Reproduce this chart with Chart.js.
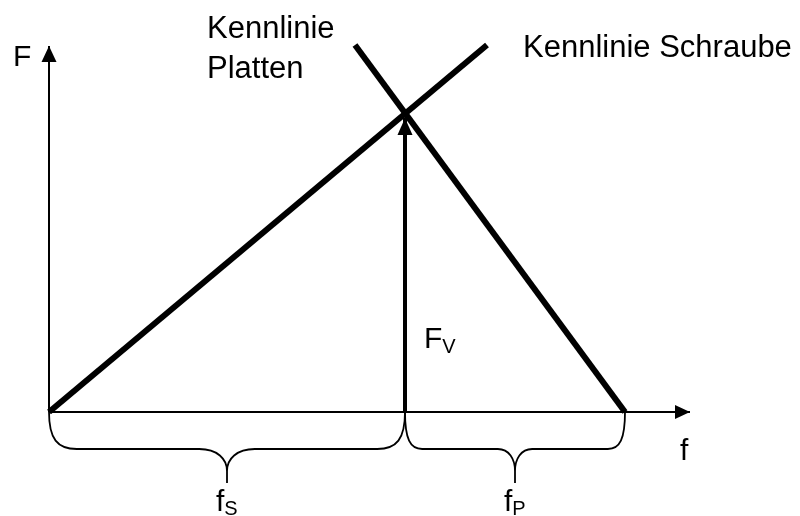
<!DOCTYPE html>
<html>
	<head>
		<title>Verspannungsschaubild</title>
		<script src="https://cdn.jsdelivr.net/npm/chart.js@4.4.0/dist/chart.umd.min.js"></script>
		<style>
			body { margin: 0; background: #fff; }
			canvas { display: block; }
		</style>
	</head>
	<body>
		<canvas id="myChart" width="800" height="516"></canvas>
		<script>
			// Daten (Einheiten ~ Pixel ab Ursprung)
			const achseF_x = [0, 0];
			const achseF_y = [0, 366];
			const achsef_x = [0, 641];
			const achsef_y = [0, 0];
			const schraube_x = [0, 438];
			const schraube_y = [0, 367];
			const platten_x = [306, 576];
			const platten_y = [367, 0];
			const fv_x = [356, 356];
			const fv_y = [0, 294];
			const klammer_von = [0, 356];
			const klammer_bis = [356, 576];
			const klammer_index = ['S', 'P'];

			function punkte (xs, ys) {
				return xs.map((x, i) => ({ x: x, y: ys[i] }));
			}

			function linie (xs, ys, breite) {
				return {
					data: punkte(xs, ys),
					showLine: true,
					borderColor: '#000',
					borderWidth: breite,
					pointRadius: 0,
					fill: false
				};
			}

			const schrift = '"Liberation Sans", Arial, sans-serif';

			function pfeil (ctx, x0, y0, x1, y1, laenge, breite) {
				let a = Math.atan2(y1 - y0, x1 - x0);
				ctx.save();
				ctx.translate(x1, y1);
				ctx.rotate(a);
				ctx.beginPath();
				ctx.moveTo(0, 0);
				ctx.lineTo(-laenge, breite / 2);
				ctx.lineTo(-laenge, -breite / 2);
				ctx.closePath();
				ctx.fillStyle = '#000';
				ctx.fill();
				ctx.restore();
			}

			function text (ctx, s, x, y, groesse) {
				ctx.font = groesse + 'px ' + schrift;
				ctx.fillText(s, x, y);
				return ctx.measureText(s).width;
			}

			// Pfeile, Klammern und Beschriftungen
			const extras = {
				id: 'extras',
				afterDatasetsDraw (chart) {
					const ctx = chart.ctx;
					const sx = chart.scales.x, sy = chart.scales.y;
					const px = v => sx.getPixelForValue(v);
					const py = v => sy.getPixelForValue(v);

					pfeil(ctx, px(achseF_x[0]), py(achseF_y[0]), px(achseF_x[1]), py(achseF_y[1]), 16, 15);
					pfeil(ctx, px(achsef_x[0]), py(achsef_y[0]), px(achsef_x[1]), py(achsef_y[1]), 15, 14);
					pfeil(ctx, px(fv_x[0]), py(fv_y[0]), px(fv_x[1]), py(fv_y[1]), 17, 15);

					// geschweifte Klammern
					ctx.save();
					ctx.strokeStyle = '#000';
					ctx.lineWidth = 1.8;
					const y0 = py(0);
					const yh = y0 + 37;
					const yt = y0 + 71;
					for (let i = 0; i < klammer_von.length; i++) {
						let x1 = px(klammer_von[i]), x2 = px(klammer_bis[i]);
						let xm = (x1 + x2) / 2;
						let r = (x2 - x1) * 0.078;
						ctx.beginPath();
						ctx.moveTo(x1, y0);
						ctx.bezierCurveTo(x1, yh - 10, x1 + r * 0.3, yh, x1 + r, yh);
						ctx.lineTo(xm - r, yh);
						ctx.bezierCurveTo(xm - r * 0.35, yh, xm, yh + 10, xm, yh + 22);
						ctx.lineTo(xm, yt);
						ctx.moveTo(xm, yh + 22);
						ctx.bezierCurveTo(xm, yh + 10, xm + r * 0.35, yh, xm + r, yh);
						ctx.lineTo(x2 - r, yh);
						ctx.bezierCurveTo(x2 - r * 0.3, yh, x2, yh - 10, x2, y0);
						ctx.stroke();

						ctx.fillStyle = '#000';
						ctx.textBaseline = 'alphabetic';
						let w = text(ctx, 'f', xm - 11, yt + 28, 30);
						text(ctx, klammer_index[i], xm - 11 + w, yt + 32, 20);
					}
					ctx.restore();

					ctx.save();
					ctx.fillStyle = '#000';
					ctx.textBaseline = 'alphabetic';
					text(ctx, 'F', px(-36), py(346), 30);
					text(ctx, 'f', px(631), py(-48), 30);
					let w = text(ctx, 'F', px(fv_x[0] + 19), py(64), 30);
					text(ctx, 'V', px(fv_x[0] + 19) + w, py(59), 20);
					text(ctx, 'Kennlinie', px(158), py(374), 31);
					text(ctx, 'Platten', px(158), py(334), 31);
					text(ctx, 'Kennlinie Schraube', px(474), py(355), 31);
					ctx.restore();
				}
			};

			var ctx = document.getElementById('myChart').getContext('2d');
			var chart = new Chart(ctx, {
				type: 'scatter',
				data: {
					datasets: [
						linie(achseF_x, achseF_y, 2),
						linie(achsef_x, achsef_y, 2),
						linie(schraube_x, schraube_y, 6),
						linie(platten_x, platten_y, 6),
						linie(fv_x, fv_y, 4)
					]
				},
				options: {
					responsive: false,
					animation: false,
					layout: { padding: 0 },
					plugins: {
						legend: { display: false },
						tooltip: { enabled: false }
					},
					scales: {
						x: { type: 'linear', min: -49, max: 751, display: false },
						y: { type: 'linear', min: -104, max: 412, display: false }
					},
					elements: { line: { tension: 0 } }
				},
				plugins: [extras]
			});
		</script>
	</body>
</html>
